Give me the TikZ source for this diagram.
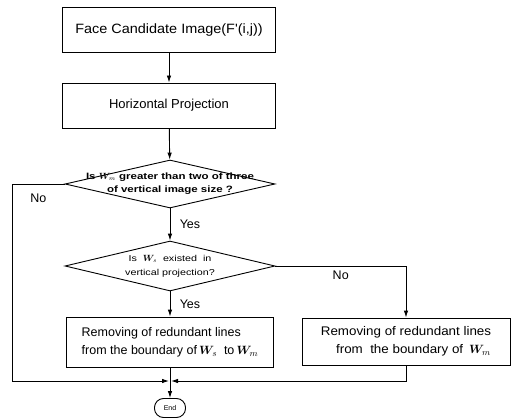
\documentclass[tikz,border=0pt]{standalone}
\usepackage{fontspec}
\usepackage{amsmath,bm}
\usetikzlibrary{arrows.meta,shapes.geometric}
\setmainfont{Liberation Sans}
\newfontfamily\wideface[FakeStretch=1.25]{Liberation Sans}
\newfontfamily\boxface[FakeStretch=1.07]{Liberation Sans}

\tikzset{
  procbox/.style={draw, rectangle, minimum width=#1, inner sep=0pt},
  decision/.style={draw, diamond, inner sep=0pt, minimum width=210pt, minimum height=48pt},
  endbox/.style={draw, rectangle, rounded corners=9pt, minimum width=31pt, minimum height=19pt, inner sep=0pt},
  branch/.style={font=\fontsize{12.5}{15}\selectfont}
}

\begin{document}
\begin{tikzpicture}[x=1pt, y=-1pt, line width=0.9pt, >={Latex[length=7pt,width=4.5pt]}]
    \useasboundingbox (0,0) rectangle (516,419);
    \node[procbox=213pt, minimum height=45pt, font=\boxface\fontsize{13.5}{16}\selectfont] (face) at (169,30) {Face Candidate Image(F'(i,j))};
    \node[procbox=213pt, minimum height=45pt, font=\fontsize{13}{16}\selectfont] (hproj) at (169,105.5) {Horizontal Projection};
    \node[decision] (dec1) at (170,184) {};
    \node[align=center, font=\wideface\bfseries\fontsize{9.2}{13}\selectfont] (q1) at (dec1.center) {Is $\bm{W}_{m}$ greater than two of three\\of vertical image size ?};
    \node[decision, minimum height=50pt] (dec2) at (170,266) {};
    \node[align=center, font=\wideface\fontsize{8.6}{14}\selectfont] (q2) at (dec2.center) {Is\ \ $\bm{W}_{s}$\ \ existed\ \ in\\vertical projection?};
    \node[procbox=207pt, minimum height=50pt, align=left, font=\fontsize{12.5}{18}\selectfont] (keep) at (170,342) {Removing of redundant lines\\ from the boundary of\,$\bm{W}_{s}$\ \ to\,$\bm{W}_{m}$};
    \node[procbox=208pt, minimum height=47pt, align=center, font=\boxface\fontsize{12.5}{18}\selectfont] (cut) at (406,341.5) {Removing of redundant lines\\ \ \ \ \ from\ \ the boundary of \,$\bm{W}_{m}$};
    \node[endbox, font=\fontsize{7}{8}\selectfont] (endnode) at (170,408) {End};
    \coordinate (join) at (170,381);
    \coordinate (lft) at (12,381);

    \draw[->] (face) -- (hproj);
    \draw[->] (hproj) -- (dec1);
    \draw[->] (dec1) -- node[right=6pt, branch] {Yes} (dec2);
    \draw[->] (dec2) -- node[right=6pt, branch] {Yes} (keep);
    \draw[->] (dec2.east) -| node[pos=0.25, below=1pt, branch] {No} (cut.north);
    \draw (dec1.west) -| node[pos=0.25, below=6pt, branch] {No} (lft);
    \draw[->, shorten >=1pt] (lft) -- (join);
    \draw[->, shorten >=1pt] (cut.south) |- (join);
    \draw[->] (keep) -- (endnode);
\end{tikzpicture}
\end{document}
